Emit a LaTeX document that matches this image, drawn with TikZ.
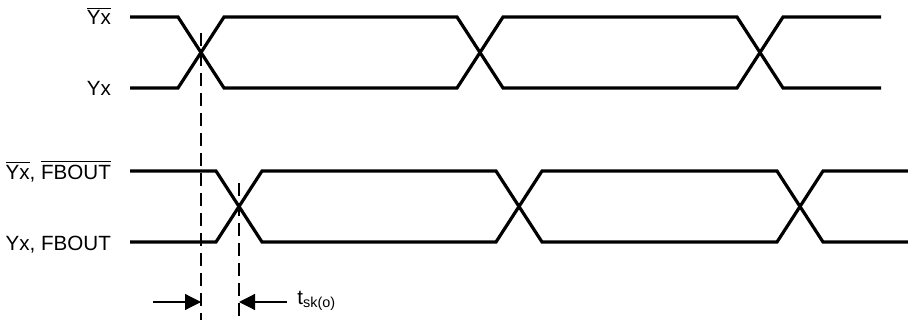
\documentclass[tikz,border=0pt]{standalone}
\usepackage{fontspec}
\setmainfont{Liberation Sans}
\usepackage{tikz}
\usetikzlibrary{arrows.meta}

\newcommand{\barred}[1]{$\overline{\hbox{#1}}$}

\begin{document}
\begin{tikzpicture}[x = 0.5pt , y = -0.5pt , font = \fontsize{10.3}{12}\selectfont ,
    wave/.style = {line width = 1.6pt} ,
    guide/.style = {line width = 0.6pt , dash pattern = on 6.5pt off 3.5pt} ,
    skew/.style = {line width = 0.6pt , -{Triangle[length = 8pt , width = 8pt]}}]
    \useasboundingbox (0,0) rectangle (908,320);
    % Yx / Yx bar
    \draw[wave] (130,17) -- (178,17) -- (224,88) -- (457,88) -- (503,17) -- (737,17) -- (783,88) -- (881,88);
    \draw[wave] (130,88) -- (178,88) -- (224,17) -- (457,17) -- (503,88) -- (737,88) -- (783,17) -- (881,17);
    % Yx, FBOUT / bars
    \draw[wave] (130,171) -- (216,171) -- (262,242) -- (496,242) -- (542,171) -- (777,171) -- (823,242) -- (908,242);
    \draw[wave] (130,242) -- (216,242) -- (262,171) -- (496,171) -- (542,242) -- (777,242) -- (823,171) -- (908,171);
    \node[anchor = base east] (lblYbar) at (118,25) {\barred{Yx}};
    \node[anchor = base east] (lblY) at (118,96) {Yx};
    \node[anchor = base east] (lblFBbar) at (118,179) {\barred{Yx}, \barred{FBOUT}};
    \node[anchor = base east] (lblFB) at (118,250) {Yx, FBOUT};
    % Reference lines
    \coordinate (crossA) at (201,33);
    \coordinate (crossB) at (239,183);
    \coordinate (baseA) at (201,320);
    \coordinate (baseB) at (239,320);
    \draw[guide] (crossA) -- (baseA);
    \draw[guide] (crossB) -- (baseB);
    % Skew arrows
    \coordinate (tipA) at (201,302);
    \coordinate (tipB) at (239,302);
    \coordinate (tailA) at (153,302);
    \coordinate (tailB) at (287,302);
    \draw[skew] (tailA) -- (tipA);
    \draw[skew] (tailB) -- (tipB);
    \node[anchor = base west , inner sep = 0pt] (tsk) at (297,304) {t\textsubscript{sk(o)}};
\end{tikzpicture}
\end{document}
